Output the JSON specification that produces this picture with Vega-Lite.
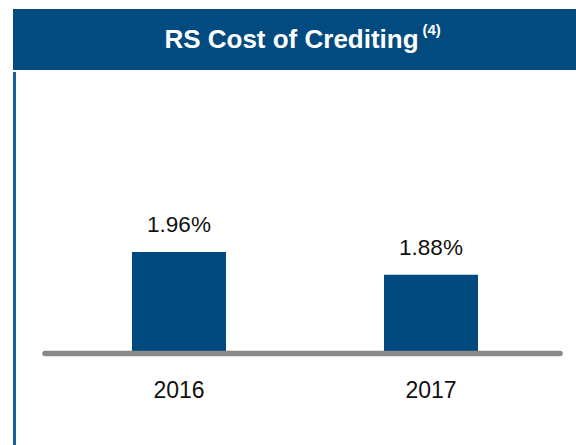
{
  "$schema": "https://vega.github.io/schema/vega-lite/v6.json",
  "background": "white",
  "padding": {"left": 13, "top": 9, "right": 0, "bottom": 0},
  "spacing": 0,
  "config": {"view": {"stroke": null}, "concat": {"spacing": 0}, "font": "Liberation Sans"},
  "datasets": {
    "bars": [
      {"year": 2016, "value": 1.96, "label": "1.96%"},
      {"year": 2017, "value": 1.88, "label": "1.88%"}
    ],
    "head": [{"title": "RS Cost of Crediting", "sup": "(4)"}],
    "frame": [{"x0": 2015.3473, "yb": 1.2727, "yt": 2.5943, "bx0": 2015.4683, "bx1": 2017.5119, "by": 1.6022}]
  },
  "vconcat": [
    {
      "width": 563,
      "height": 61,
      "view": {"fill": "#024b80", "stroke": null},
      "data": {"name": "head"},
      "layer": [
        {
          "mark": {"type": "text", "font": "Liberation Sans", "fontWeight": "bold", "fontSize": 26, "color": "white", "align": "center", "baseline": "middle", "dx": -3},
          "encoding": {"text": {"field": "title", "type": "nominal"}}
        },
        {
          "mark": {"type": "text", "font": "Liberation Sans", "fontWeight": "bold", "fontSize": 15, "color": "white", "align": "left", "baseline": "middle", "dx": 128, "dy": -10},
          "encoding": {"text": {"field": "sup", "type": "nominal"}}
        }
      ]
    },
    {
      "width": 563,
      "height": 375,
      "layer": [
        {
          "data": {"name": "frame"},
          "mark": {"type": "rule", "color": "#1f5e9f", "strokeWidth": 3},
          "encoding": {
            "x": {"field": "x0", "type": "quantitative", "axis": null, "scale": {"domain": [2015.3413, 2017.5754], "nice": false, "zero": false, "padding": 0}},
            "y": {"field": "yb", "type": "quantitative", "axis": null, "scale": {"domain": [1.2727, 2.5943], "nice": false, "zero": false, "padding": 0}},
            "y2": {"field": "yt"}
          }
        },
        {
          "data": {"name": "bars"},
          "mark": {"type": "bar", "color": "#014a80", "width": 94},
          "encoding": {
            "x": {"field": "year", "type": "quantitative", "axis": null},
            "y": {"field": "value", "type": "quantitative", "axis": null},
            "y2": {"datum": 1.611}
          }
        },
        {
          "data": {"name": "frame"},
          "mark": {"type": "rule", "color": "#898989", "strokeWidth": 5.5, "strokeCap": "round"},
          "encoding": {
            "x": {"field": "bx0", "type": "quantitative", "axis": null},
            "x2": {"field": "bx1"},
            "y": {"field": "by", "type": "quantitative", "axis": null}
          }
        },
        {
          "data": {"name": "bars"},
          "mark": {"type": "text", "fontSize": 22.5, "color": "#111111", "align": "center", "baseline": "alphabetic", "dy": -19.5},
          "encoding": {
            "x": {"field": "year", "type": "quantitative", "axis": null},
            "y": {"field": "value", "type": "quantitative", "axis": null},
            "text": {"field": "label", "type": "nominal"}
          }
        },
        {
          "data": {"name": "bars"},
          "mark": {"type": "text", "fontSize": 23, "color": "#111111", "align": "center", "baseline": "alphabetic"},
          "encoding": {
            "x": {"field": "year", "type": "quantitative", "axis": null},
            "y": {"datum": 1.4454, "axis": null},
            "text": {"field": "year", "type": "nominal"}
          }
        }
      ],
      "resolve": {"scale": {"x": "shared", "y": "shared"}}
    }
  ],
  "resolve": {"scale": {"x": "independent", "y": "independent"}}
}
